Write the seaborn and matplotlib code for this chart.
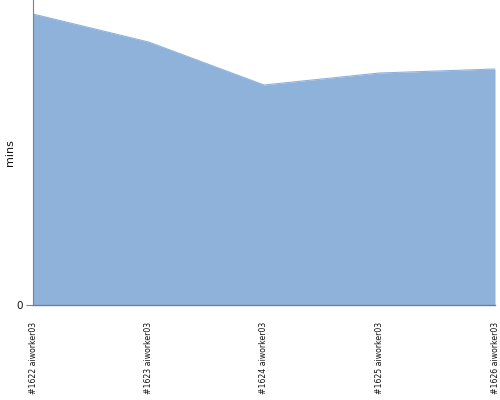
import matplotlib
matplotlib.use("Agg")
import matplotlib.pyplot as plt
import seaborn as sns
import pandas as pd

categories = ["#1622 aiworker03", "#1623 aiworker03", "#1624 aiworker03",
              "#1625 aiworker03", "#1626 aiworker03"]
mins = [291, 263, 220, 232, 236]

sns.set_theme(style="white")
plt.rcParams['font.family'] = ['DejaVu Sans']

df = pd.DataFrame({"build": categories, "mins": mins, "pos": range(len(categories))})

fig = plt.figure(figsize=(5, 4), dpi=100)
ax = fig.add_axes([33/500, 1 - 305/400, (495-33)/500, 305/400])

fill = "#8fb2db"
sns.lineplot(data=df, x="pos", y="mins", ax=ax, color=fill, linewidth=0.8)
ax.fill_between(df["pos"], 0, df["mins"], color=fill, linewidth=0)

ax.set_xlim(0, len(categories) - 1)
ax.set_ylim(0, 305)
ax.set_xticks(df["pos"])
ax.set_xticklabels(categories, rotation=90, fontsize=5.6, color="#111111")
ax.set_yticks([0])
ax.set_yticklabels(["0"], fontsize=7.5, color="#111111")
ax.set_xlabel("")
ax.set_ylabel("mins", fontsize=8, color="#111111")
ax.yaxis.set_label_coords(-18/462, 0.5)

for s in ["top", "right"]:
    ax.spines[s].set_visible(False)
ax.spines["left"].set_color("#808080")
ax.spines["left"].set_linewidth(0.8)
ax.spines["bottom"].set_color("#6f7f99")
ax.spines["bottom"].set_linewidth(1)
ax.tick_params(axis="y", length=5, width=0.8, color="#808080", pad=2, left=True)
ax.tick_params(axis="x", length=0, pad=12)

fig.savefig("out.png", dpi=100)
